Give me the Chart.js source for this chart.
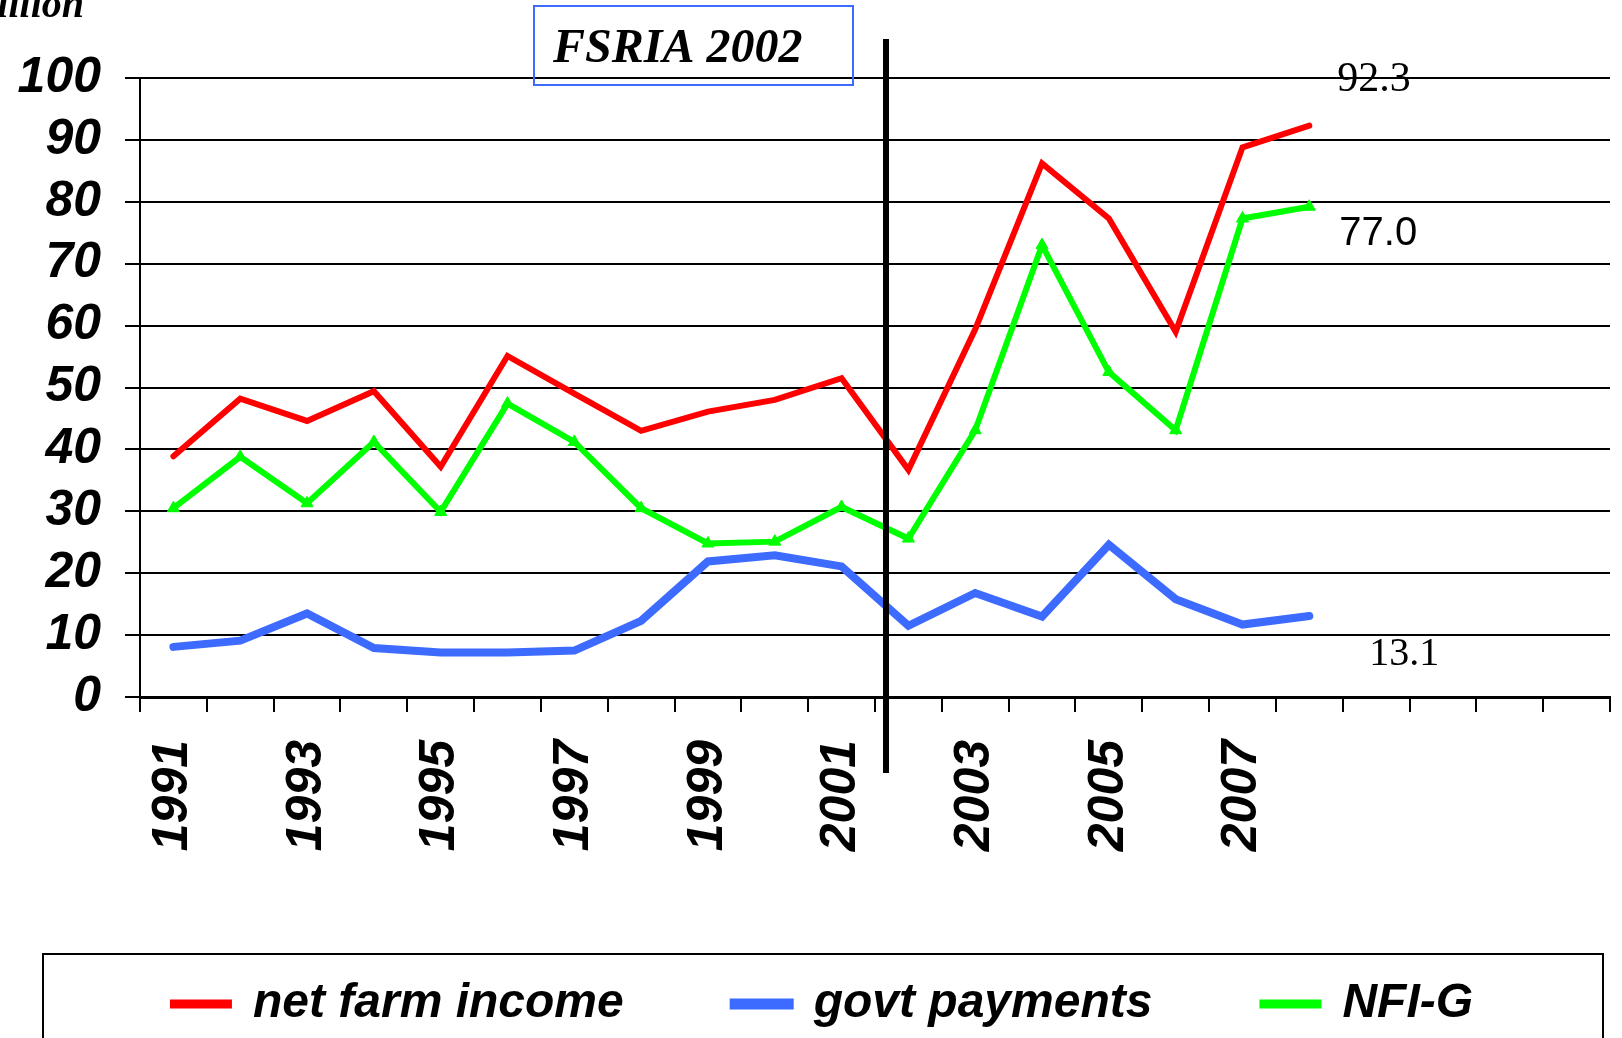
<!DOCTYPE html>
<html>
<head>
<meta charset="utf-8">
<script src="https://cdn.jsdelivr.net/npm/chart.js@4"></script>
<style>
  html, body { margin: 0; padding: 0; background: #fff; }
  canvas { display: block; }
</style>
</head>
<body>
<canvas id="farmChart" width="1622" height="1038"></canvas>
<script>
const years = ["1991", "1992", "1993", "1994", "1995", "1996", "1997", "1998", "1999", "2000",
  "2001", "2002", "2003", "2004", "2005", "2006", "2007", "2008", "", "", "", ""];

const netFarmIncome = [38.9, 48.2, 44.6, 49.4, 37.2, 55.1, 49.0, 43.0, 46.1, 48.0,
  51.5, 36.7, 59.4, 86.2, 77.3, 59.0, 88.8, 92.3];
const govtPayments = [8.1, 9.1, 13.5, 7.9, 7.2, 7.2, 7.5, 12.3, 21.9, 22.9,
  21.1, 11.5, 16.8, 13.0, 24.6, 15.8, 11.7, 13.1];
const nfiG = [30.5, 38.8, 31.3, 41.2, 29.9, 47.4, 41.2, 30.5, 24.8, 25.1,
  30.7, 25.6, 43.1, 73.0, 52.5, 43.1, 77.3, 79.2];

const endLabels = ["92.3", "13.1", "77.0"];
const policyLabel = "FSRIA 2002";
const unitLabel = "$ billion";

const axisFont = { family: "'Liberation Sans', Arial, sans-serif", size: 50, weight: "bold", style: "italic" };

// extra drawing: policy line + box, unit text, end labels, legend frame
const extras = {
  id: "extras",
  afterLayout(chart) {
    // line the legend up with its frame
    chart.legend.left = 43;
    chart.legend.right = 1603;
  },
  afterDraw(chart) {
    const ctx = chart.ctx;
    const x = chart.scales.x;
    const y = chart.scales.y;
    ctx.save();

    // FSRIA vertical line, just right of the 2001/2002 boundary
    const lineX = (x.getPixelForValue(10) + x.getPixelForValue(11)) / 2 + 11;
    ctx.strokeStyle = "#000";
    ctx.lineWidth = 6;
    ctx.beginPath();
    ctx.moveTo(lineX, 39);
    ctx.lineTo(lineX, 773);
    ctx.stroke();

    // label box
    ctx.strokeStyle = "#3d6bff";
    ctx.lineWidth = 2;
    ctx.strokeRect(534, 6, 319, 79);
    ctx.fillStyle = "#000";
    ctx.font = "italic bold 48px 'Liberation Serif', 'Times New Roman', serif";
    ctx.textAlign = "left";
    ctx.textBaseline = "alphabetic";
    ctx.fillText(policyLabel, 553, 62);

    // unit text, cut off at top left
    ctx.font = "italic bold 40px 'Liberation Serif', 'Times New Roman', serif";
    ctx.textAlign = "right";
    ctx.fillText(unitLabel, 84, 17);

    // end-of-series labels
    const last = netFarmIncome.length - 1;
    const px = x.getPixelForValue(last);
    ctx.textAlign = "left";
    ctx.font = "42px 'Liberation Serif', 'Times New Roman', serif";
    ctx.fillText(endLabels[0], px + 28, y.getPixelForValue(netFarmIncome[last]) - 35);
    ctx.font = "40px 'Liberation Serif', 'Times New Roman', serif";
    ctx.fillText(endLabels[1], px + 60, y.getPixelForValue(govtPayments[last]) + 49);
    ctx.font = "40px 'Liberation Sans', Arial, sans-serif";
    ctx.fillText(endLabels[2], px + 30, y.getPixelForValue(nfiG[last]) + 38);

    // legend frame
    ctx.strokeStyle = "#000";
    ctx.lineWidth = 2;
    ctx.strokeRect(43, 954, 1560, 200);
    ctx.restore();
  }
};

new Chart(document.getElementById("farmChart"), {
  type: "line",
  data: {
    labels: years,
    datasets: [
      {
        label: "net farm income",
        data: netFarmIncome,
        borderColor: "#ff0000",
        backgroundColor: "#ff0000",
        borderWidth: 6,
        pointRadius: 0,
        tension: 0,
        fill: false,
        borderCapStyle: "round",
        borderJoinStyle: "miter",
      },
      {
        label: "govt payments",
        data: govtPayments,
        borderColor: "#3d6bff",
        backgroundColor: "#3d6bff",
        borderWidth: 8,
        pointRadius: 0,
        tension: 0,
        fill: false,
        borderCapStyle: "round",
        borderJoinStyle: "miter",
      },
      {
        label: "NFI-G",
        data: nfiG,
        borderColor: "#00ff00",
        backgroundColor: "#00ff00",
        borderWidth: 6,
        pointStyle: "triangle",
        pointRadius: 7,
        pointBorderWidth: 1,
        tension: 0,
        fill: false,
        borderJoinStyle: "miter",
      },
    ],
  },
  options: {
    responsive: false,
    animation: false,
    layout: { padding: { top: 78, left: 0, right: 12, bottom: 0 } },
    plugins: {
      tooltip: { enabled: false },
      legend: {
        position: "bottom",
        labels: {
          color: "#000",
          font: { family: "'Liberation Sans', Arial, sans-serif", size: 48, weight: "bold", style: "italic" },
          boxWidth: 56,
          boxHeight: 3,
          padding: 110,
        },
      },
    },
    scales: {
      x: {
        offset: true,
        grid: { offset: true, drawOnChartArea: false, color: "#000", lineWidth: 2, tickLength: 15 },
        border: { color: "#000", width: 3 },
        ticks: {
          color: "#000",
          font: axisFont,
          autoSkip: false,
          minRotation: 90,
          maxRotation: 90,
          padding: 28,
          callback: function (val, i) { return i % 2 === 0 ? this.getLabelForValue(val) : ""; },
        },
        afterFit(scale) {
          scale.height = 173;
          scale.paddingLeft = 0;
          scale.paddingRight = 0;
        },
      },
      y: {
        min: 0,
        max: 100,
        grid: { color: "#000", lineWidth: 2, tickLength: 15 },
        border: { color: "#000", width: 2 },
        ticks: { stepSize: 10, autoSkip: false, color: "#000", font: axisFont, padding: 24 },
        afterFit(scale) { scale.width = 140; },
      },
    },
  },
  plugins: [extras],
});
</script>
</body>
</html>
